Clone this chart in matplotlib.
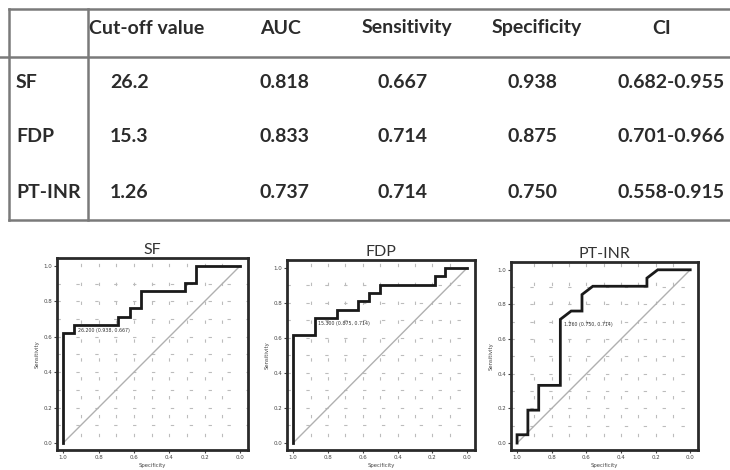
import matplotlib
matplotlib.use("Agg")
import matplotlib.pyplot as plt
import numpy as np

# ---------------- data ----------------
col_headers = ["Cut-off value", "AUC", "Sensitivity", "Specificity", "CI"]
row_labels = ["SF", "FDP", "PT-INR"]
cutoff = ["26.2", "15.3", "1.26"]
auc = ["0.818", "0.833", "0.737"]
sensitivity = ["0.667", "0.714", "0.714"]
specificity = ["0.938", "0.875", "0.750"]
ci = ["0.682-0.955", "0.701-0.966", "0.558-0.915"]

# ROC step-curve vertices (specificity, sensitivity)
sf_spec = [1.0, 1.0, 0.9375, 0.9375, 0.6875, 0.6875, 0.625, 0.625, 0.5625, 0.5625, 0.3125, 0.3125, 0.25, 0.25, 0.0]
sf_sens = [0.0, 0.619, 0.619, 0.667, 0.667, 0.714, 0.714, 0.762, 0.762, 0.857, 0.857, 0.905, 0.905, 1.0, 1.0]

fdp_spec = [1.0, 1.0, 0.875, 0.875, 0.75, 0.75, 0.625, 0.625, 0.5625, 0.5625, 0.5, 0.5, 0.1875, 0.1875, 0.125, 0.125, 0.0]
fdp_sens = [0.0, 0.619, 0.619, 0.714, 0.714, 0.762, 0.762, 0.810, 0.810, 0.857, 0.857, 0.905, 0.905, 0.952, 0.952, 1.0, 1.0]

pt_spec = [1.0, 1.0, 0.9375, 0.9375, 0.875, 0.875, 0.75, 0.75, 0.6875, 0.625, 0.625, 0.5625, 0.25, 0.25, 0.1875, 0.0]
pt_sens = [0.0, 0.048, 0.048, 0.190, 0.190, 0.333, 0.333, 0.714, 0.762, 0.762, 0.857, 0.905, 0.905, 0.952, 1.0, 1.0]

roc_titles = ["SF", "FDP", "PT-INR"]
cut_labels = ["26.200 (0.938, 0.667)", "15.300 (0.875, 0.714)", "1.260 (0.750, 0.714)"]
cut_points = [(0.9375, 0.667), (0.875, 0.714), (0.75, 0.714)]
tick_vals = [0.0, 0.2, 0.4, 0.6, 0.8, 1.0]

# ---------------- figure ----------------
fig = plt.figure(figsize=(7.3, 4.7), dpi=100)
fig.patch.set_facecolor("white")

# table drawn on a pixel-coordinate overlay axes
tab = fig.add_axes([0, 0, 1, 1])
tab.set_xlim(0, 730)
tab.set_ylim(470, 0)
tab.axis("off")

line_c = "#7a7a7a"
tab.plot([9, 730], [9, 9], color=line_c, lw=1.8)
tab.plot([0, 730], [57, 57], color=line_c, lw=1.8)
tab.plot([9, 730], [220, 220], color=line_c, lw=1.8)
tab.plot([9, 9], [9, 220], color=line_c, lw=1.8)
tab.plot([88, 88], [9, 220], color=line_c, lw=1.8)

tfont = dict(family="Lato", fontweight="bold", fontsize=14, color="#2b2b2b")
header_x = [89, 260, 362, 492, 652]
for h, x in zip(col_headers, header_x):
    tab.text(x, 28, h, ha="left", va="center", **tfont)

row_y = [82, 137, 192]
value_x = [110, 260, 378, 508, 618]
cols = [cutoff, auc, sensitivity, specificity, ci]
for i, (lab, y) in enumerate(zip(row_labels, row_y)):
    tab.text(16, y, lab, ha="left", va="center", **tfont)
    for col, x in zip(cols, value_x):
        tab.text(x, y, col[i], ha="left", va="center", **tfont)

# ROC panels
axes_rects = [
    [57 / 730, 20 / 470, 191 / 730, 192 / 470],
    [287 / 730, 20 / 470, 188 / 730, 190 / 470],
    [511 / 730, 20 / 470, 187 / 730, 188 / 470],
]
curves = [(sf_spec, sf_sens), (fdp_spec, fdp_sens), (pt_spec, pt_sens)]

for rect, (sx, sy), title, clab, cp in zip(axes_rects, curves, roc_titles, cut_labels, cut_points):
    ax = fig.add_axes(rect)
    ax.set_xlim(1.035, -0.045)
    ax.set_ylim(-0.04, 1.045)
    # sparse dotted grid
    for g in np.arange(0.1, 1.0, 0.1):
        ax.axhline(g, color="#bcbcbc", lw=0.8, ls=(0, (3, 14)), zorder=0)
        ax.axvline(g, color="#bcbcbc", lw=0.8, ls=(5, (3, 14)), zorder=0)
    ax.plot([1, 0], [0, 1], color="#b0b0b0", lw=1.0, zorder=1)
    ax.plot(sx, sy, color="#1a1a1a", lw=2.0, zorder=2, solid_joinstyle="miter")
    ax.text(cp[0] - 0.02, cp[1] - 0.015, clab, fontsize=3.4, color="#333333",
            ha="left", va="top", zorder=3)
    ax.set_xticks(tick_vals)
    ax.set_yticks(tick_vals)
    ax.set_xticklabels([f"{t:.1f}" for t in tick_vals])
    ax.set_yticklabels([f"{t:.1f}" for t in tick_vals])
    ax.tick_params(labelsize=4.0, length=2, width=0.8, pad=1.5, colors="#444444")
    for s in ax.spines.values():
        s.set_linewidth(2.0)
        s.set_color("#2a2a2a")
    ax.set_ylabel("Sensitivity", fontsize=3.8, labelpad=3, color="#444444")
    ax.set_xlabel("Specificity", fontsize=3.8, labelpad=2, color="#444444")
    ax.set_title(title, fontsize=11.5, family="Lato", color="#333333", pad=3)

fig.savefig("out.png", dpi=100, facecolor="white")
